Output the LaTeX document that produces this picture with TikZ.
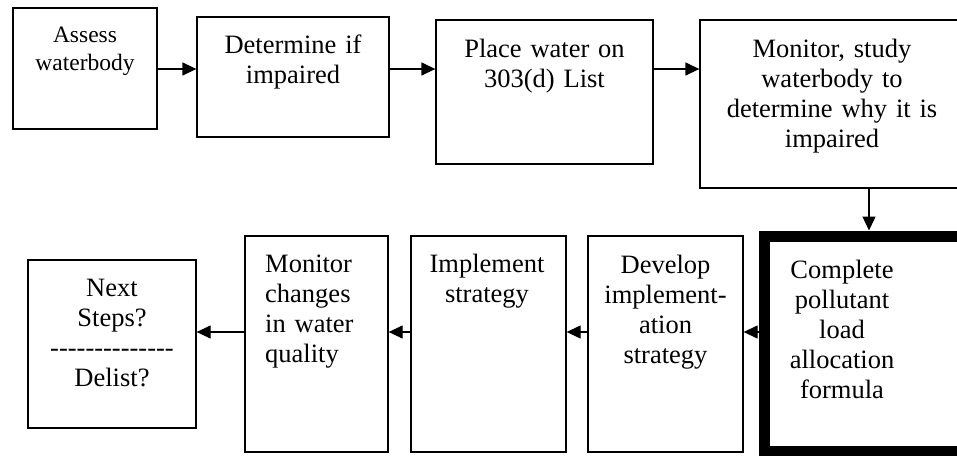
\documentclass[tikz,border=0pt]{standalone}
\usepackage{fontspec}
\setmainfont{Liberation Serif}
\newfontfamily\dashfont{Liberation Serif}
\usetikzlibrary{arrows.meta}
\begin{document}
\begin{tikzpicture}[x=1pt,y=-1pt,
  boxnode/.style={draw=black, line width=1.3pt, rectangle, inner sep=0pt, fill=white},
  thickbox/.style={draw=black, line width=11pt, rectangle, inner sep=0pt, fill=white},
  txt/.style={font=\fontsize{26.5pt}{30pt}\selectfont, text width=260pt, align=center, anchor=base, inner sep=0pt},
  txtsmall/.style={font=\fontsize{23.5pt}{28pt}\selectfont, text width=200pt, align=center, anchor=base, inner sep=0pt},
  txtleft/.style={font=\fontsize{26.5pt}{30pt}\selectfont, text width=200pt, align=left, anchor=base west, inner sep=0pt},
  arr/.style={line width=1.3pt, -{Triangle[length=14pt,width=13pt]}}]
\useasboundingbox (0,0) rectangle (957,455);
\clip (0,0) rectangle (957,455);
\fill[white] (0,0) rectangle (957,455);
% boxes
\node[boxnode, minimum width=144pt, minimum height=121pt] (b1) at (85,68.5) {};
\node[boxnode, minimum width=192pt, minimum height=120pt] (b2) at (293,77) {};
\node[boxnode, minimum width=217pt, minimum height=144pt] (b3) at (544.5,92) {};
\node[boxnode, minimum width=264pt, minimum height=168pt] (b4) at (832,104) {};
\node[thickbox, minimum width=225.5pt, minimum height=215.5pt] (b5) at (877.25,343.75) {};
\node[boxnode, minimum width=155pt, minimum height=216pt] (b6) at (665.5,344) {};
\node[boxnode, minimum width=155pt, minimum height=216pt] (b7) at (488.5,344) {};
\node[boxnode, minimum width=143pt, minimum height=216pt] (b8) at (316.5,344) {};
\node[boxnode, minimum width=168pt, minimum height=168pt] (b9) at (112,344) {};
% texts
\node[txtsmall] (t1) at (85,42) {Assess\\waterbody};
\node[txt] (t2) at (293,53) {Determine if\\impaired};
\node[txt] (t3) at (544.5,57) {Place water on\\303(d) List};
\node[txt] (t4) at (832,57) {Monitor, study\\waterbody to\\determine why it is\\impaired};
\node[txt] (t5) at (842,278) {Complete\\pollutant\\load\\allocation\\formula};
\node[txt] (t6) at (665.5,273) {Develop\\implement-\\ation\\strategy};
\node[txt] (t7) at (487,272) {Implement\\strategy};
\node[txtleft] (t8) at (265,272) {Monitor\\changes\\in water\\quality};
\node[txt] (t9) at (112,296) {Next\\Steps?\\{\dashfont --------------}\\Delist?};
% connectors
\coordinate (toprow) at (0,69);
\coordinate (botrow) at (0,332);
\coordinate (dcol) at (869,0);
\draw[arr] (b1.east |- toprow) -- (b2.west |- toprow);
\draw[arr] (b2.east |- toprow) -- (b3.west |- toprow);
\draw[arr] (b3.east |- toprow) -- (b4.west |- toprow);
\draw[arr] (b4.south -| dcol) -- (b5.north -| dcol);
\draw[arr] (b5.west |- botrow) -- (b6.east |- botrow);
\draw[arr] (b6.west |- botrow) -- (b7.east |- botrow);
\draw[arr] (b7.west |- botrow) -- (b8.east |- botrow);
\draw[arr] (b8.west |- botrow) -- (b9.east |- botrow);
\end{tikzpicture}
\end{document}
